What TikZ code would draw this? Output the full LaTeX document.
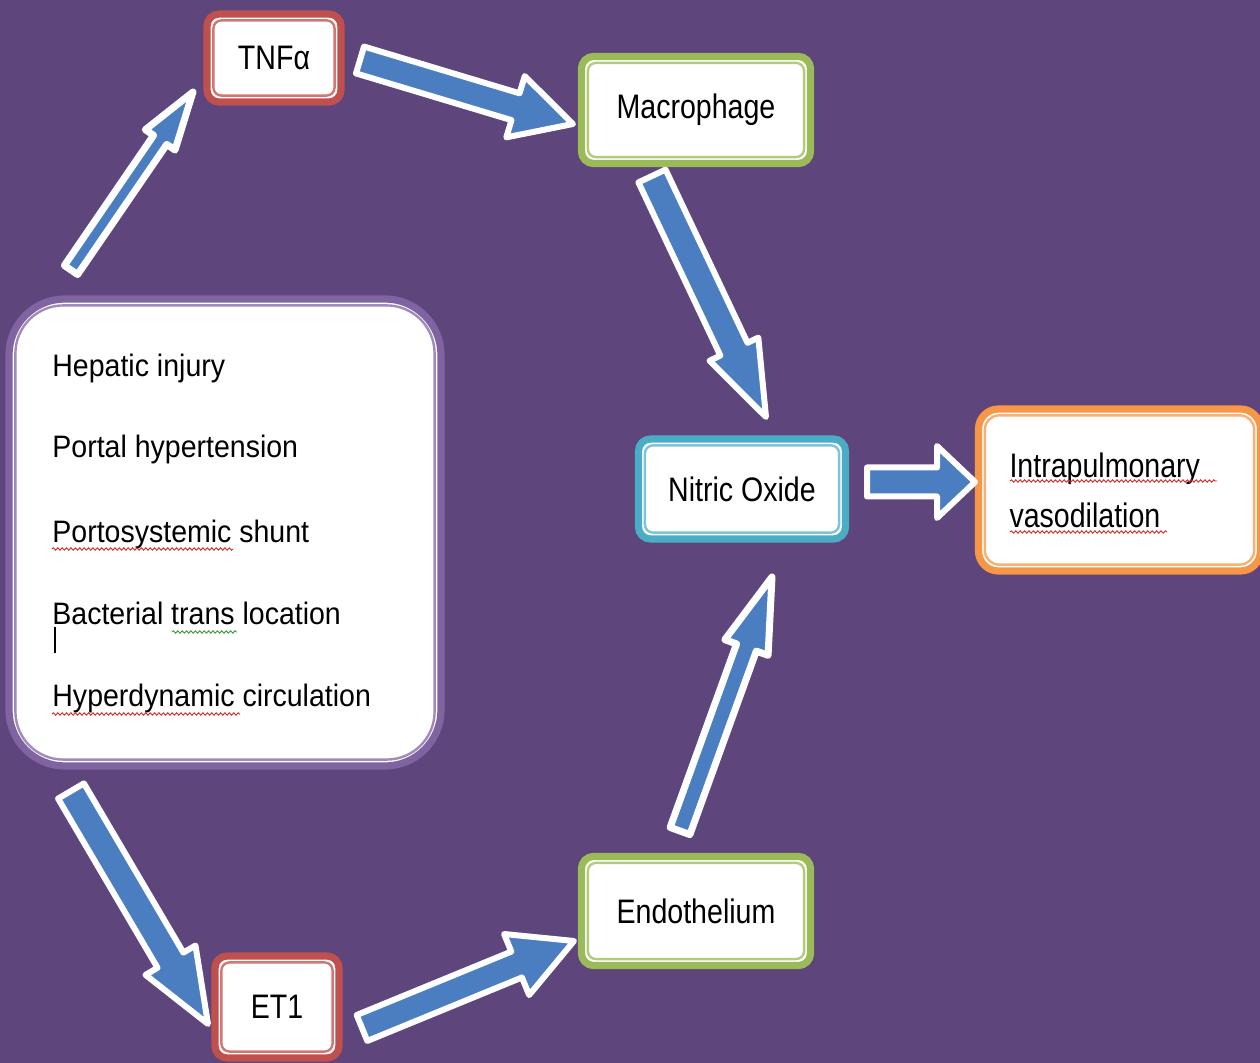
\documentclass[tikz,border=0pt]{standalone}
\usepackage{fontspec}
\setmainfont{Liberation Sans}
\newfontfamily\boxfont[FakeStretch=0.84]{Liberation Sans}
\newfontfamily\listfont[FakeStretch=0.92]{Liberation Sans}
\usetikzlibrary{calc,decorations.pathmorphing}

\definecolor{bgpurple}{RGB}{94,69,123}
\definecolor{flowblue}{RGB}{74,126,193}
\definecolor{edgered}{RGB}{192,80,77}      \definecolor{linered}{RGB}{210,118,116}
\definecolor{edgegreen}{RGB}{155,187,89}   \definecolor{linegreen}{RGB}{178,204,125}
\definecolor{edgecyan}{RGB}{75,172,198}    \definecolor{linecyan}{RGB}{125,196,216}
\definecolor{edgeorange}{RGB}{247,150,70}  \definecolor{lineorange}{RGB}{249,176,116}
\definecolor{edgepurple}{RGB}{128,100,162} \definecolor{linepurple}{RGB}{160,138,188}
\definecolor{spellred}{RGB}{214,40,40}
\definecolor{spellgreen}{RGB}{60,150,60}

\tikzset{
  panel/.style={draw=#1, fill=white, line width=3.6pt, rounded corners=6pt,
                inner sep=0pt, font=\boxfont\fontsize{17}{20}\selectfont},
  listitem/.style={anchor=base west, inner sep=0pt,
                   font=\listfont\fontsize{15.5}{18}\selectfont},
  flowarrow/.style={fill=flowblue, draw=white, line join=round},
  squiggle/.style={draw=#1, line width=0.45pt,
                   decorate, decoration={snake, amplitude=0.6pt, segment length=2.2pt}},
}

% block arrow from tail #1 to tip #2; shaft half width #3, head half width #4,
% head length #5 and outline width #6, all in drawing units
\newcommand\blockflow[6]{%
  \pgfpointdiff{\pgfpointanchor{#1}{center}}{\pgfpointanchor{#2}{center}}%
  \pgfgetlastxy{\bfdx}{\bfdy}%
  \pgfmathsetmacro\bfang{atan2(\bfdy,\bfdx)}%
  \pgfmathsetmacro\bflen{veclen(\bfdx,\bfdy)}%
  \pgfmathsetmacro\bfneck{\bflen-#5*0.5}%
  \begin{scope}[shift={(#1)}, rotate=\bfang]
    \draw[flowarrow, line width=#6*0.5pt]
      (0pt,#3*0.5pt) -- (\bfneck pt,#3*0.5pt) -- (\bfneck pt,#4*0.5pt)
      -- (\bflen pt,0pt) -- (\bfneck pt,-#4*0.5pt) -- (\bfneck pt,-#3*0.5pt)
      -- (0pt,-#3*0.5pt) -- cycle;
  \end{scope}}

\begin{document}
\begin{tikzpicture}[x=0.5pt, y=-0.5pt]
  \fill[bgpurple] (0,0) rectangle (1260,1063);
  \useasboundingbox (0,0) rectangle (1260,1063);

  % boxes
  \node[panel=edgered, minimum width=67pt, minimum height=44pt] (tnf) at (274,58) {TNFα};
  \node[panel=edgegreen, minimum width=114.5pt, minimum height=53.5pt] (mac) at (696,110) {Macrophage};
  \node[panel=edgecyan, minimum width=103.5pt, minimum height=50pt] (no) at (742,489) {Nitric Oxide};
  \node[panel=edgegreen, minimum width=114.5pt, minimum height=54.5pt] (endo) at (696,911) {Endothelium};
  \node[panel=edgered, minimum width=62pt, minimum height=51pt] (et) at (277,1007) {ET1};
  \node[panel=edgeorange, rounded corners=10pt, minimum width=138.5pt, minimum height=81pt,
        text width=110pt, align=left, inner xsep=15.5pt,
        font=\boxfont\fontsize{17}{25}\selectfont] (ipv) at (1119.5,490)
        {Intrapulmonary\\vasodilation};
  \node[panel=edgepurple, rounded corners=28pt, minimum width=216pt, minimum height=233.5pt] (cause) at (225,532.5) {};

  % inner rule of each box, set off from the frame by a thin white gap
  \foreach \bx/\bc/\br in {tnf/linered/4pt, mac/linegreen/4pt, no/linecyan/4pt, endo/linegreen/4pt,
                           et/linered/4pt, ipv/lineorange/7pt, cause/linepurple/24pt}
    \draw[draw=\bc, line width=1.2pt, rounded corners=\br]
      ([shift={(5pt,-5pt)}]\bx.north west) rectangle ([shift={(-5pt,5pt)}]\bx.south east);

  % list of causes
  \node[listitem] (c1) at (52,377) {Hepatic injury};
  \node[listitem] (c2) at (52,458) {Portal hypertension};
  \node[listitem] (c3) at (52,543) {Portosystemic shunt};
  \node[listitem] (c4) at (52,625) {Bacterial trans location};
  \node[listitem] (c5) at (52,707) {Hyperdynamic circulation};

  % spelling marks and text cursor
  \draw[squiggle=spellred] (52,549) -- (233,549);
  \draw[squiggle=spellred] (52,714) -- (240,714);
  \draw[squiggle=spellgreen] (172,632) -- (237,632);
  \draw[squiggle=spellred] (1010,481) -- (1217,481);
  \draw[squiggle=spellred] (1010,532) -- (1167,532);
  \draw[black, line width=1pt] (55,627) -- (55,653);

  % arrow end points
  \coordinate (a1s) at (71,270);   \coordinate (a1e) at (193,92);
  \coordinate (a2s) at (360,60);   \coordinate (a2e) at (573,124);
  \coordinate (a3s) at (652,176);  \coordinate (a3e) at (766,417);
  \coordinate (a4s) at (867,482);  \coordinate (a4e) at (975,482);
  \coordinate (a5s) at (680,831);  \coordinate (a5e) at (772,577);
  \coordinate (a6s) at (71,791);   \coordinate (a6e) at (208,1024);
  \coordinate (a7s) at (362,1028); \coordinate (a7e) at (574,941);

  \blockflow{a1s}{a1e}{8}{18}{58}{7}
  \blockflow{a2s}{a2e}{14}{32}{60}{6}
  \blockflow{a3s}{a3e}{15}{27}{75}{6}
  \blockflow{a4s}{a4e}{14.5}{36}{38}{6}
  \blockflow{a5s}{a5e}{10.5}{23}{75}{7}
  \blockflow{a6s}{a6e}{15}{29}{74}{6}
  \blockflow{a7s}{a7e}{14}{33}{62}{6}
\end{tikzpicture}
\end{document}
